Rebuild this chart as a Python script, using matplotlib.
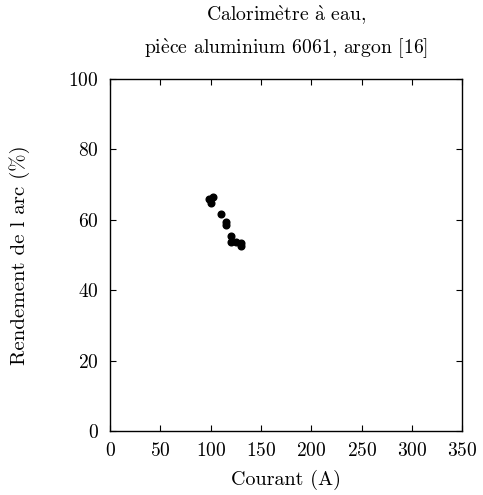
import matplotlib
matplotlib.use('Agg')
import matplotlib.pyplot as plt

plt.rcParams['font.family'] = ['cmr10', 'DejaVu Serif']
plt.rcParams['axes.formatter.use_mathtext'] = True
plt.rcParams['mathtext.fontset'] = 'cm'
plt.rcParams['font.size'] = 14

# courant (A) et rendement (%)
courant = [98, 102, 100, 110, 115, 115, 120, 120, 125, 130, 130]
rendement = [66.0, 66.5, 64.7, 61.6, 59.5, 58.4, 55.4, 53.8, 53.6, 53.3, 52.6]

x_ticks = [0, 50, 100, 150, 200, 250, 300, 350]
y_ticks = [0, 20, 40, 60, 80, 100]

fig = plt.figure(figsize=(4.83, 4.95), dpi=100)
ax = fig.add_axes([110 / 483, 64 / 495, 352.5 / 483, 352 / 495])

ax.plot(courant, rendement, 'o', color='black', markersize=4.8)

ax.set_xlim(0, 350)
ax.set_ylim(0, 100)
ax.set_xticks(x_ticks)
ax.set_yticks(y_ticks)
ax.tick_params(direction='in', top=True, right=True, length=4.5, width=0.8, pad=8)
for s in ax.spines.values():
    s.set_linewidth(1.0)

ax.set_xlabel('Courant (A)', labelpad=7, fontsize=14.5)
ax.set_ylabel('Rendement de l arc (%)', labelpad=28, fontsize=15)
title = (r'Calorim$\grave{\mathrm{e}}$tre $\grave{\mathrm{a}}$ eau,' + '\n'
         + r'pi$\grave{\mathrm{e}}$ce aluminium 6061, argon [16]')
ax.set_title(title, pad=18, linespacing=1.58, fontsize=14.2)

fig.savefig('out.png', dpi=100)
